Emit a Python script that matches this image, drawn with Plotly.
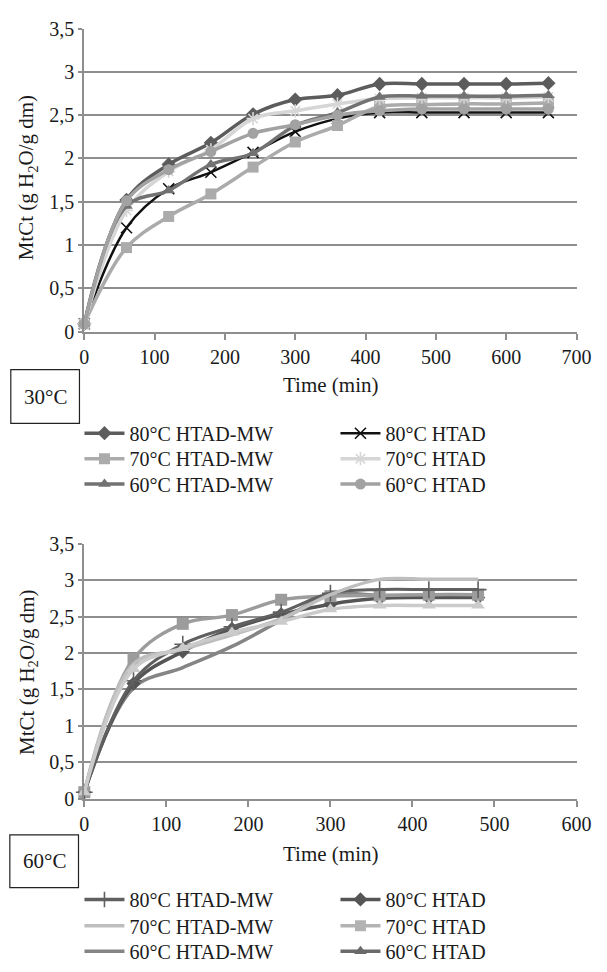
import plotly.graph_objects as go

# ---------------- data ----------------
time_30 = [0, 60, 120, 180, 240, 300, 360, 420, 480, 540, 600, 660]
a_80_mw = [0.09, 1.52, 1.93, 2.18, 2.51, 2.68, 2.73, 2.86, 2.86, 2.86, 2.86, 2.87]
a_70_mw = [0.09, 0.97, 1.33, 1.59, 1.90, 2.19, 2.38, 2.60, 2.62, 2.63, 2.63, 2.64]
a_60_mw = [0.09, 1.45, 1.63, 1.93, 2.06, 2.38, 2.53, 2.71, 2.72, 2.72, 2.72, 2.73]
a_80_ht = [0.09, 1.20, 1.65, 1.84, 2.07, 2.31, 2.46, 2.53, 2.53, 2.53, 2.53, 2.53]
a_70_ht = [0.09, 1.40, 1.85, 2.10, 2.46, 2.55, 2.63, 2.69, 2.70, 2.70, 2.70, 2.71]
a_60_ht = [0.09, 1.51, 1.87, 2.08, 2.29, 2.39, 2.50, 2.55, 2.57, 2.57, 2.57, 2.57]

time_60 = [0, 60, 120, 180, 240, 300, 360, 420, 480]
b_80_mw = [0.09, 1.62, 2.12, 2.36, 2.56, 2.82, 2.87, 2.87, 2.87]
b_70_mw = [0.09, 1.85, 2.05, 2.25, 2.47, 2.80, 3.01, 3.01, 3.01]
b_60_mw = [0.09, 1.52, 1.80, 2.09, 2.45, 2.80, 2.79, 2.79, 2.79]
b_80_ht = [0.09, 1.58, 2.02, 2.33, 2.53, 2.67, 2.75, 2.76, 2.76]
b_70_ht = [0.09, 1.92, 2.40, 2.52, 2.73, 2.78, 2.79, 2.80, 2.80]
b_60_ht = [0.09, 1.78, 2.07, 2.28, 2.43, 2.60, 2.65, 2.65, 2.65]

series_names = ["80°C HTAD-MW", "80°C HTAD", "70°C HTAD-MW", "70°C HTAD", "60°C HTAD-MW", "60°C HTAD"]

y_ticks = [0, 0.5, 1, 1.5, 2, 2.5, 3, 3.5]
x_ticks_30 = [0, 100, 200, 300, 400, 500, 600, 700]
x_ticks_60 = [0, 100, 200, 300, 400, 500, 600]

FONT = "Liberation Serif"
TXT = "#1a1a1a"
W, H = 607, 972


def px_x(p):
    return p / W


def px_y(p):
    return 1 - p / H


fig = go.Figure()


def add(x, y, name, color, width, symbol=None, msize=11, xa="x", ya="y",
        legend="legend", showlegend=True, mline=0):
    mode = "lines+markers" if symbol else "lines"
    fig.add_trace(go.Scatter(
        x=x, y=y, name=name, mode=mode, xaxis=xa, yaxis=ya,
        line=dict(color=color, width=width, shape="spline", smoothing=1.0),
        marker=dict(symbol=symbol or "circle", size=msize, color=color,
                    line=dict(color=color, width=mline)),
        legend=legend, showlegend=showlegend, cliponaxis=False))


# top chart (30°C)
add(time_30, a_80_mw, series_names[0], "#5c5c5c", 3.5, "diamond", 11, legend="legend")
add(time_30, a_80_ht, series_names[1], "#111111", 2.5, "x-thin-open", 11, legend="legend", mline=1.6)
add(time_30, a_70_mw, series_names[2], "#ababab", 3.5, "square", 11, legend="legend2")
add(time_30, a_70_ht, series_names[3], "#d6d6d6", 3.5, "asterisk-open", 11, legend="legend2", mline=1.6)
add(time_30, a_60_mw, series_names[4], "#727272", 3.5, "triangle-up", 11, legend="legend3")
add(time_30, a_60_ht, series_names[5], "#a2a2a2", 3.5, "circle", 11, legend="legend3")

# bottom chart (60°C) data traces
add(time_60, b_60_mw, series_names[4], "#858585", 3.5, None, xa="x2", ya="y2", showlegend=False)
add(time_60, b_80_ht, series_names[1], "#555555", 3.5, "diamond", 11, xa="x2", ya="y2", showlegend=False)
add(time_60, b_70_ht, series_names[3], "#9c9c9c", 3.5, "square", 12, xa="x2", ya="y2", showlegend=False)
add(time_60, b_80_mw, series_names[0], "#606060", 3.0, "cross-thin-open", 12, xa="x2", ya="y2", showlegend=False, mline=1.6)
add(time_60, b_70_mw, series_names[2], "#bebebe", 3.5, None, xa="x2", ya="y2", showlegend=False)
add(time_60, b_60_ht, series_names[5], "#cbcbcb", 3.5, "triangle-up", 12, xa="x2", ya="y2", showlegend=False)

# legend entries of the bottom chart, in the styling printed in its key
leg_styles = [
    ("legend4", series_names[0], "#606060", "cross-thin-open", 1.6),
    ("legend4", series_names[1], "#555555", "diamond", 0),
    ("legend5", series_names[2], "#bebebe", None, 0),
    ("legend5", series_names[3], "#b3b3b3", "square", 0),
    ("legend6", series_names[4], "#858585", None, 0),
    ("legend6", series_names[5], "#6a6a6a", "triangle-up", 0),
]
for lg, nm, col, sym, ml in leg_styles:
    fig.add_trace(go.Scatter(
        x=[None], y=[None], name=nm, xaxis="x2", yaxis="y2",
        mode="lines+markers" if sym else "lines",
        line=dict(color=col, width=3.5),
        marker=dict(symbol=sym or "circle", size=11, color=col, line=dict(color=col, width=ml)),
        legend=lg, showlegend=True))

GRID = "#8e8e8e"
xdom = [px_x(82), px_x(591)]
axis_font = dict(family=FONT, size=20, color=TXT)

common_x = dict(showgrid=False, showline=True, linecolor=GRID, linewidth=2,
                ticks="outside", ticklen=6, tickcolor=GRID, tickwidth=1.5,
                tickfont=axis_font, zeroline=False, fixedrange=True,
                ticklabeloverflow="allow")
common_y = dict(showgrid=True, gridcolor=GRID, gridwidth=2, showline=True,
                linecolor=GRID, linewidth=2, ticks="outside", ticklen=4,
                tickcolor=GRID, tickwidth=1.5, tickfont=axis_font, zeroline=False,
                range=[0, 3.5], tickvals=y_ticks, fixedrange=True)


def legend_row(ycenter):
    return dict(orientation="h", x=px_x(77), xanchor="left", y=px_y(ycenter), yanchor="middle",
                entrywidth=201, itemwidth=40,
                font=dict(family=FONT, size=20, color=TXT),
                bgcolor="rgba(0,0,0,0)", borderwidth=0, tracegroupgap=0)


fig.update_layout(
    width=W, height=H, margin=dict(l=0, r=0, t=0, b=0),
    paper_bgcolor="white", plot_bgcolor="white",
    separators=", ",
    font=dict(family=FONT, size=20, color=TXT),
    xaxis=dict(domain=xdom, anchor="y", range=[0, 700], tickvals=x_ticks_30, **common_x),
    yaxis=dict(domain=[px_y(328), px_y(18)], anchor="x", **common_y),
    xaxis2=dict(domain=xdom, anchor="y2", range=[0, 600], tickvals=x_ticks_60, **common_x),
    yaxis2=dict(domain=[px_y(806), px_y(545)], anchor="x2", **common_y),
    legend=legend_row(432),
    legend2=legend_row(458),
    legend3=legend_row(484),
    legend4=legend_row(909),
    legend5=legend_row(936),
    legend6=legend_row(962),
    showlegend=True,
)

ytitle = "MtCt (g H<sub>2</sub>O/g dm)"
ann = [
    dict(text=ytitle, x=px_x(23), y=px_y(171), textangle=-90, size=21),
    dict(text=ytitle, x=px_x(23), y=px_y(677), textangle=-90, size=21),
    dict(text="Time (min)", x=px_x(337), y=px_y(383), size=21),
    dict(text="Time (min)", x=px_x(337), y=px_y(863), size=21),
    dict(text="30°C", x=px_x(41.5), y=px_y(395), size=21),
    dict(text="60°C", x=px_x(40.5), y=px_y(870), size=21),
]
for a in ann:
    s = a.pop("size")
    fig.add_annotation(xref="paper", yref="paper", showarrow=False,
                       xanchor="center", yanchor="middle",
                       font=dict(family=FONT, size=s, color=TXT), **a)

for (x0, y0, x1, y1) in [(6, 367, 77, 422), (5, 843, 76, 897)]:
    fig.add_shape(type="rect", xref="paper", yref="paper",
                  x0=px_x(x0), x1=px_x(x1), y0=px_y(y1), y1=px_y(y0),
                  line=dict(color="#222222", width=1.2), fillcolor="rgba(0,0,0,0)")

fig.write_html("out.html",
               config={"displayModeBar": False},
               post_script="document.body.style.margin='0';document.body.style.overflow='hidden';")
